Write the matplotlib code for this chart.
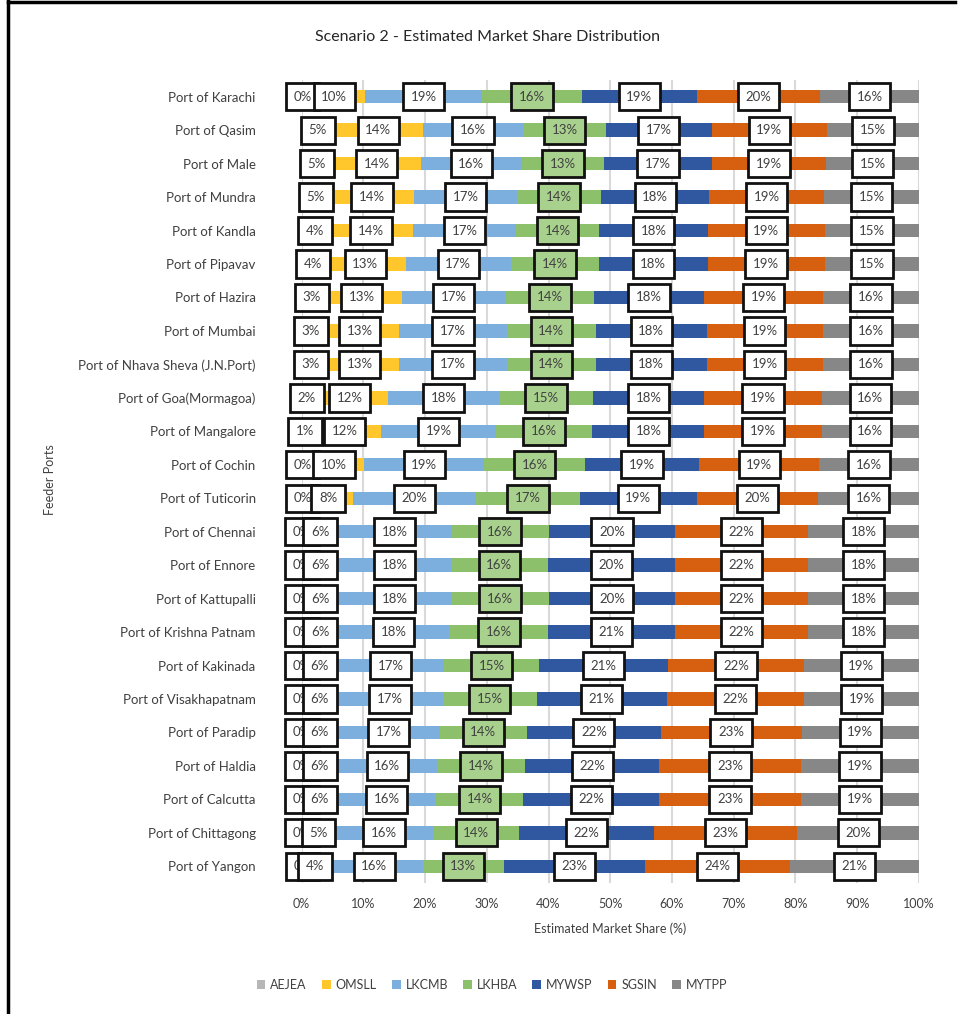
import matplotlib

matplotlib.use("Agg")
import matplotlib.pyplot as plt
from matplotlib.lines import Line2D
from matplotlib.patches import Patch
import numpy as np

plt.rcParams["font.family"] = ["Lato", "DejaVu Sans"]

ports = [
    "Port of Karachi", "Port of Qasim", "Port of Male", "Port of Mundra",
    "Port of Kandla", "Port of Pipavav", "Port of Hazira", "Port of Mumbai",
    "Port of Nhava Sheva (J.N.Port)", "Port of Goa(Mormagoa)", "Port of Mangalore",
    "Port of Cochin", "Port of Tuticorin", "Port of Chennai", "Port of Ennore",
    "Port of Kattupalli", "Port of Krishna Patnam", "Port of Kakinada",
    "Port of Visakhapatnam", "Port of Paradip", "Port of Haldia", "Port of Calcutta",
    "Port of Chittagong", "Port of Yangon",
]

terminals = ["AEJEA", "OMSLL", "LKCMB", "LKHBA", "MYWSP", "SGSIN", "MYTPP"]

# share (%) per terminal, one value per port in the order above
aejea = [0.3, 5.25, 5.0, 4.6, 4.4, 3.8, 3.3, 3.0, 3.0, 1.7, 1.1, 0.3, 0.3,
         0.1, 0.1, 0.1, 0.1, 0.1, 0.1, 0.1, 0.1, 0.1, 0.1, 0.3]
omsll = [10.0, 14.35, 14.35, 13.6, 13.7, 13.1, 12.9, 12.8, 12.8, 12.25, 11.8, 9.9, 8.0,
         5.85, 5.85, 5.85, 5.8, 5.7, 5.7, 5.7, 5.7, 5.7, 5.3, 3.7]
lkcmb = [18.9, 16.3, 16.3, 16.7, 16.6, 17.0, 16.9, 17.45, 17.45, 18.1, 18.55, 19.35, 19.95,
         18.2, 18.2, 18.2, 18.05, 17.3, 17.05, 16.55, 16.2, 16.0, 15.95, 15.6]
lkhba = [16.2, 13.4, 13.4, 13.6, 13.55, 14.3, 14.25, 14.4, 14.4, 15.1, 15.65, 16.35, 16.85,
         15.95, 15.8, 15.95, 16.0, 15.4, 15.25, 14.2, 14.2, 14.1, 13.95, 13.2]
mywsp = [18.6, 17.1, 17.35, 17.55, 17.55, 17.55, 17.9, 17.95, 17.95, 18.1, 18.15, 18.55, 18.9,
         20.35, 20.5, 20.35, 20.55, 20.9, 21.05, 21.6, 21.75, 22.05, 21.8, 22.75]
sgsin = [19.95, 18.75, 18.55, 18.55, 18.95, 19.0, 19.2, 18.85, 18.85, 19.0, 19.0, 19.4, 19.7,
         21.6, 21.6, 21.6, 21.55, 21.95, 22.25, 22.85, 22.9, 22.9, 23.2, 23.55]
mytpp = [16.05, 14.85, 15.05, 15.4, 15.25, 15.25, 15.55, 15.55, 15.55, 15.75, 15.75, 16.15, 16.3,
         17.95, 17.95, 17.95, 17.95, 18.65, 18.6, 19.0, 19.15, 19.15, 19.7, 20.9]

series = [aejea, omsll, lkcmb, lkhba, mywsp, sgsin, mytpp]
colors = ["#b7b7b7", "#ffc72c", "#7cafde", "#8dc06a", "#2f58a0", "#d6600f", "#878787"]
label_fill = ["white", "white", "white", "#a9d18e", "white", "white", "white"]

W, H = 958, 1014
fig = plt.figure(figsize=(W / 100, H / 100), dpi=100)
ax = fig.add_axes([301.5 / W, 1 - 883 / H, (919 - 301.5) / W, (883 - 80) / H])

y = np.arange(len(ports))
left = np.zeros(len(ports))
for k, (name, vals) in enumerate(zip(terminals, series)):
    vals = np.asarray(vals, dtype=float)
    ax.barh(y, vals, left=left, height=0.4, color=colors[k], label=name, zorder=2)
    for yi, (l, v) in enumerate(zip(left, vals)):
        ax.text(
            l + v / 2, yi, f"{v:.0f}%", ha="center", va="center",
            fontsize=9.5, color="#404040", zorder=5 + k,
            bbox=dict(boxstyle="square,pad=0.58", facecolor=label_fill[k],
                      edgecolor="#111111", linewidth=2.0),
        )
    left += vals

ax.set_xlim(0, 100)
ax.set_ylim(len(ports) - 0.5, -0.5)
ax.set_xticks(np.arange(0, 101, 10))
ax.set_xticklabels([f"{t}%" for t in range(0, 101, 10)])
ax.set_yticks(y)
ax.set_yticklabels(ports)
ax.tick_params(axis="x", length=0, pad=11, labelsize=9, labelcolor="#404040")
ax.tick_params(axis="y", length=0, pad=33, labelsize=9.5, labelcolor="#404040")
ax.grid(axis="x", color="#d9d9d9", linewidth=1.5, zorder=0)
ax.set_axisbelow(True)
for sp in ax.spines.values():
    sp.set_visible(False)

ax.set_xlabel("Estimated Market Share (%)", fontsize=9, color="#404040", labelpad=9)
fig.text(50 / W, 1 - 480 / H, "Feeder Ports", rotation=90, ha="center", va="center",
         fontsize=9, color="#404040")
fig.text(487 / W, 1 - 37 / H, "Scenario 2 - Estimated Market Share Distribution",
         ha="center", va="center", fontsize=11.5, color="#262626")

handles = [Patch(facecolor=c, edgecolor="none") for c in colors]
fig.legend(handles, terminals, loc="center", bbox_to_anchor=(492 / W, 1 - 985 / H),
           ncol=7, frameon=False, fontsize=9, handlelength=0.7, handleheight=0.7,
           handletextpad=0.4, columnspacing=1.2, labelcolor="#404040")

# outer frame of the chart area
fig.add_artist(Line2D([8 / W, 8 / W], [0, 1 - 1 / H], color="black", linewidth=2.5))
fig.add_artist(Line2D([8 / W, 955 / W], [1 - 1.5 / H, 1 - 1.5 / H], color="black", linewidth=2.5))

fig.savefig("out.png", dpi=100)
